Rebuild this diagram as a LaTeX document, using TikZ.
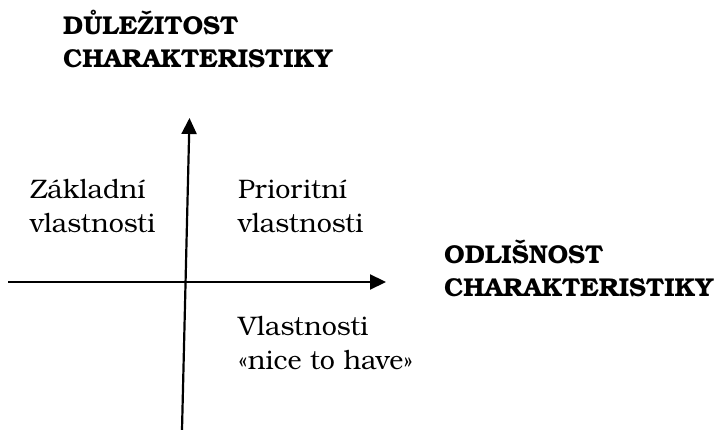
\documentclass[tikz,border=0pt]{standalone}
\usepackage{fontspec}
\setmainfont{TeX Gyre Bonum}
\usetikzlibrary{arrows.meta}
\begin{document}
\begin{tikzpicture}[x=1pt,y=-1pt,
  axis/.style={line width=2.2pt,-{Triangle[length=16pt,width=15pt]}},
  quad/.style={anchor=base west,align=left,inner sep=0pt,font=\fontsize{26.8}{34}\selectfont},
  title/.style={anchor=base west,align=left,inner sep=0pt,font=\bfseries\fontsize{25.8}{33}\selectfont}]
\useasboundingbox (0,0) rectangle (723,430);
% axes
\coordinate (vbot) at (182,430);
\coordinate (vtop) at (189.5,118);
\coordinate (hleft) at (8,282);
\coordinate (hright) at (386,282);
\draw[axis] (vbot) -- (vtop);
\draw[axis] (hleft) -- (hright);
% axis titles (anchored at the baseline of the last line)
\node[title] (ytitle) at (63,68) {DŮLEŽITOST\\CHARAKTERISTIKY};
\node[title] (xtitle) at (444,297) {ODLIŠNOST\\CHARAKTERISTIKY};
% quadrant labels
\node[quad] (q1) at (30,233) {Základní\\vlastnosti};
\node[quad] (q2) at (238,233) {Prioritní\\vlastnosti};
\node[quad] (q3) at (238,370) {Vlastnosti\\«nice to have»};
\end{tikzpicture}
\end{document}
